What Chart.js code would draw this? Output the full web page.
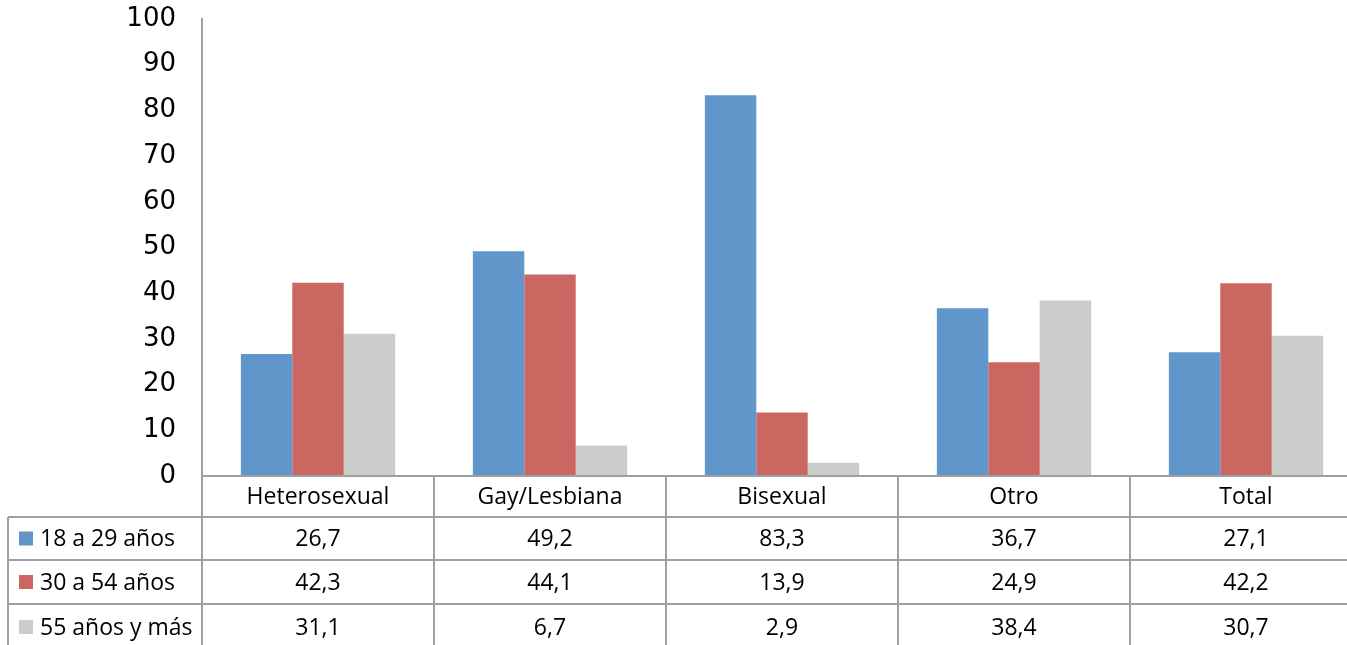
<!DOCTYPE html>
<html>
<head>
<meta charset="utf-8">
<script src="https://cdn.jsdelivr.net/npm/chart.js@4/dist/chart.umd.min.js"></script>
<style>
  html, body { margin: 0; padding: 0; background: #fff; overflow: hidden; }
  #wrap { width: 1362px; height: 645px; }
</style>
</head>
<body>
<div id="wrap"><canvas id="chart" width="1362" height="645"></canvas></div>
<script>
const categories = ['Heterosexual', 'Gay/Lesbiana', 'Bisexual', 'Otro', 'Total'];
const seriesNames = ['18 a 29 años', '30 a 54 años', '55 años y más'];
const age18to29 = [26.7, 49.2, 83.3, 36.7, 27.1];
const age30to54 = [42.3, 44.1, 13.9, 24.9, 42.2];
const age55plus = [31.1, 6.7, 2.9, 38.4, 30.7];
const seriesColors = ['#6096C9', '#CC6661', '#CCCCCC'];

const lineCol = '#A0A0A0';
const tableFont = '23px "Open Sans", sans-serif';
const rowEdges = [476, 517, 560, 604, 650]; // header + three series rows
const legendLeft = 8;

const fmt = v => v.toFixed(1).replace('.', ',');

// draws the Excel-style data table under the plot, using the x scale positions
const dataTable = {
  id: 'dataTable',
  afterDraw(chart) {
    const { ctx, chartArea, scales } = chart;
    const x = scales.x;
    const n = categories.length;
    const step = (chartArea.right - chartArea.left) / n;
    const right = chartArea.right;
    const bottom = chart.height;
    const rows = [age18to29, age30to54, age55plus];

    ctx.save();
    ctx.strokeStyle = lineCol;
    ctx.lineWidth = 2;
    ctx.beginPath();
    // top border of header row
    ctx.moveTo(chartArea.left, rowEdges[0]); ctx.lineTo(right, rowEdges[0]);
    // series row borders
    for (let i = 1; i < rowEdges.length - 1; i++) {
      ctx.moveTo(legendLeft, rowEdges[i]); ctx.lineTo(right, rowEdges[i]);
    }
    // column borders
    for (let k = 0; k <= n; k++) {
      const bx = chartArea.left + k * step;
      ctx.moveTo(bx, rowEdges[0]); ctx.lineTo(bx, bottom);
    }
    ctx.moveTo(legendLeft, rowEdges[1]); ctx.lineTo(legendLeft, bottom);
    ctx.stroke();

    ctx.font = tableFont;
    ctx.fillStyle = '#000';
    ctx.textBaseline = 'middle';
    ctx.textAlign = 'center';
    categories.forEach((c, i) => {
      ctx.fillText(c, x.getPixelForValue(i), (rowEdges[0] + rowEdges[1]) / 2 + 1);
    });
    rows.forEach((vals, r) => {
      const cy = (rowEdges[r + 1] + rowEdges[r + 2]) / 2 + 1;
      ctx.textAlign = 'center';
      ctx.fillStyle = '#000';
      vals.forEach((v, i) => ctx.fillText(fmt(v), x.getPixelForValue(i), cy));
      // legend key + name
      ctx.fillStyle = seriesColors[r];
      ctx.fillRect(19, cy - 8, 14, 14);
      ctx.fillStyle = '#000';
      ctx.textAlign = 'left';
      ctx.fillText(seriesNames[r], 40, cy);
    });
    ctx.restore();
  }
};

new Chart(document.getElementById('chart'), {
  type: 'bar',
  data: {
    labels: categories,
    datasets: [age18to29, age30to54, age55plus].map((d, i) => ({
      label: seriesNames[i],
      data: d,
      backgroundColor: seriesColors[i],
      borderWidth: 0,
      barPercentage: 1,
      categoryPercentage: 0.665
    }))
  },
  options: {
    responsive: false,
    animation: false,
    layout: { padding: { top: 19, bottom: 645 - 476, left: 0, right: 0 } },
    plugins: { legend: { display: false }, tooltip: { enabled: false } },
    scales: {
      x: { display: false },
      y: {
        min: 0, max: 100,
        ticks: { stepSize: 10, color: '#000', padding: 26,
                 font: { family: '"DejaVu Sans", Verdana, sans-serif', size: 26 } },
        grid: { display: false, drawTicks: false },
        border: { display: true, color: lineCol, width: 2 },
        afterFit: s => { s.width = 202; s.paddingTop = 0; s.paddingBottom = 0; }
      }
    }
  },
  plugins: [dataTable]
});
</script>
</body>
</html>
